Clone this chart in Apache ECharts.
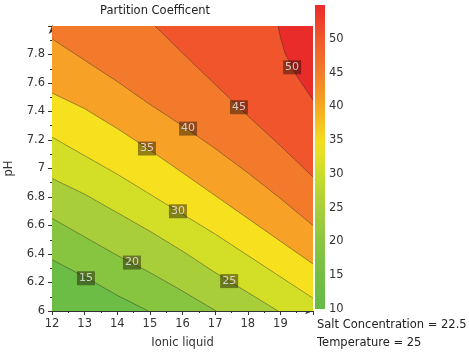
<!DOCTYPE html>
<html><head><meta charset="utf-8">
<script src="https://cdn.jsdelivr.net/npm/echarts@6/dist/echarts.min.js"></script>
<style>html,body{margin:0;padding:0;background:#fff}#c{width:469px;height:357px}</style>
</head><body><div id="c"></div>
<script>
// axis extents and ticks
const X0 = 12, X1 = 20, Y0 = 6, Y1 = 8;
const xTickLabels = ['12','13','14','15','16','17','18','19'];
const yTickLabels = ['6','6.2','6.4','6.6','6.8','7','7.2','7.4','7.6','7.8'];
const cbarTickLabels = ['10','15','20','25','30','35','40','45','50'];

// contour levels and band colours (band i lies between levels[i-1] and levels[i])
const levels = [15, 20, 25, 30, 35, 40, 45, 50];
const bandColors = ['#6bbd45','#87c540','#a8cf39','#d3df27','#f7e11f','#f7a226','#f37a2b','#f0552c','#e92b2a'];

// contour lines: [Ionic liquid, pH]
const contour15 = [[12,6.36],[13,6.24],[14,6.11],[14.95,6]];
const contour20 = [[12,6.65],[13,6.52],[14,6.39],[15,6.27],[16,6.14],[17.03,6]];
const contour25 = [[12,6.93],[13,6.82],[14,6.69],[15,6.56],[16,6.42],[17,6.27],[18,6.13],[18.93,6]];
const contour30 = [[12,7.22],[13,7.09],[14,6.96],[15,6.82],[16,6.68],[17,6.54],[18,6.39],[19,6.24],[20,6.09]];
const contour35 = [[12,7.53],[13,7.42],[14,7.28],[15,7.13],[16,6.97],[17,6.81],[18,6.65],[19,6.49],[20,6.33]];
const contour40 = [[12,7.91],[13,7.76],[14,7.61],[15,7.45],[16,7.30],[17,7.14],[18,6.97],[19,6.79],[20,6.60]];
const contour45 = [[15.16,8],[16,7.81],[17,7.59],[18,7.37],[19,7.16],[20,6.94]];
const contour50 = [[18.93,8],[19.0,7.92],[19.14,7.81],[19.5,7.65],[20,7.48]];
const contours = [contour15, contour20, contour25, contour30, contour35, contour40, contour45, contour50];

// contour label positions: [Ionic liquid, pH, level]
const contourLabels = [[13.04,6.23,15],[14.45,6.34,20],[17.43,6.21,25],[15.86,6.70,30],[14.91,7.14,35],[16.17,7.28,40],[17.73,7.43,45],[19.36,7.71,50]];

// colour bar
const cbarMin = 10, cbarMax = 55;
const cbarValues = [10, 15, 20, 25, 30, 33, 35, 40, 45, 50, 55];
const cbarColors = ['#66bb47','#74be45','#8bc640','#a9cf3a','#c9dc2d','#e6e024','#f3dc1f','#f6a823','#f27c2a','#ef592b','#ea2a2b'];

const title = 'Partition Coefficent';
const notes = ['Salt Concentration = 22.5', 'Temperature = 25'];

const FONT = 'DejaVu Sans';

function perim(p) {
  const x = p[0], y = p[1], e = 1e-9;
  if (Math.abs(y - Y0) < e) return (x - X0) / (X1 - X0);
  if (Math.abs(x - X1) < e) return 1 + (y - Y0) / (Y1 - Y0);
  if (Math.abs(y - Y1) < e) return 2 + (X1 - x) / (X1 - X0);
  return 3 + (Y1 - y) / (Y1 - Y0);
}
const corners = [[X0,Y0],[X1,Y0],[X1,Y1],[X0,Y1]];
function regionAbove(line) {
  const pts = line.slice();
  const te = perim(line[line.length - 1]);
  let ts = perim(line[0]);
  if (ts < te) ts += 4;
  for (let k = Math.floor(te) + 1; k < ts; k++) pts.push(corners[k % 4]);
  return pts;
}

const chart = echarts.init(document.getElementById('c'), null, {renderer: 'canvas'});

const bandData = [-1].concat(levels.map((l, i) => i));

const series = [];
series.push({
  type: 'custom', xAxisIndex: 0, yAxisIndex: 0, silent: true, z: 1,
  data: bandData.map(v => [v]),
  renderItem: function (params, api) {
    const idx = api.value(0);
    let poly;
    if (idx < 0) poly = corners;
    else poly = regionAbove(contours[idx]);
    return {
      type: 'polygon',
      shape: {points: poly.map(p => api.coord(p))},
      style: {fill: bandColors[idx + 1], stroke: null}
    };
  }
});
contours.forEach((c, i) => {
  series.push({
    type: 'line', xAxisIndex: 0, yAxisIndex: 0, data: c, showSymbol: false, silent: true, z: 3,
    lineStyle: {color: 'rgba(45,45,45,0.55)', width: 0.8}, animation: false
  });
});
series.push({
  type: 'scatter', xAxisIndex: 0, yAxisIndex: 0, data: contourLabels, symbolSize: 1,
  itemStyle: {color: 'rgba(0,0,0,0)'}, z: 5, silent: true,
  label: {
    show: true, position: 'inside', formatter: p => String(p.value[2]),
    color: '#eeeeee', fontFamily: FONT, fontSize: 11,
    backgroundColor: 'rgba(20,10,0,0.55)', padding: [2, 2, 1, 2]
  }
});
// colour bar
series.push({
  type: 'custom', xAxisIndex: 1, yAxisIndex: 1, silent: true,
  data: [[0]],
  renderItem: function (params, api) {
    const a = api.coord([0, cbarMin]);
    const b = api.coord([1, cbarMax]);
    const stops = cbarValues.map((v, i) => ({offset: (v - cbarMin) / (cbarMax - cbarMin), color: cbarColors[i]}));
    return {
      type: 'rect',
      shape: {x: a[0], y: b[1], width: b[0] - a[0], height: a[1] - b[1]},
      style: {fill: new echarts.graphic.LinearGradient(0, 1, 0, 0, stops)}
    };
  }
});

const option = {
  animation: false,
  backgroundColor: '#fff',
  title: {text: title, left: 100, top: 5, padding: 0, textStyle: {fontFamily: FONT, fontSize: 11.5, fontWeight: 'normal', color: '#222'}},
  grid: [
    {left: 52, right: 156, top: 26, bottom: 46, containLabel: false, outerBoundsMode: 'none'},
    {left: 315, width: 10, top: 5, height: 304, containLabel: false, outerBoundsMode: 'none'}
  ],
  xAxis: [
    {type: 'value', gridIndex: 0, min: X0, max: X1, interval: 1,
     name: 'Ionic liquid', nameLocation: 'middle', nameGap: 26,
     nameTextStyle: {fontFamily: FONT, fontSize: 11.5, color: '#333'},
     axisLine: {show: true, symbol: ['none', 'arrow'], symbolSize: [5, 8], lineStyle: {color: '#333', width: 1}},
     axisTick: {show: true, length: 4, lineStyle: {color: '#333'}},
     minorTick: {show: true, splitNumber: 2, length: 2, lineStyle: {color: '#333'}},
     axisLabel: {fontFamily: FONT, fontSize: 11.5, color: '#333', margin: 7,
       formatter: v => { const i = Math.round(v - X0); return xTickLabels[i] !== undefined ? xTickLabels[i] : ''; }},
     splitLine: {show: false}},
    {type: 'value', gridIndex: 1, min: 0, max: 1, show: false}
  ],
  yAxis: [
    {type: 'value', gridIndex: 0, min: Y0, max: Y1, interval: 0.2,
     name: 'pH', nameLocation: 'middle', nameGap: 37, nameRotate: 90,
     nameTextStyle: {fontFamily: FONT, fontSize: 11.5, color: '#333'},
     axisLine: {show: true, symbol: ['none', 'arrow'], symbolSize: [5, 8], lineStyle: {color: '#333', width: 1}},
     axisTick: {show: true, length: 4, lineStyle: {color: '#333'}},
     minorTick: {show: true, splitNumber: 2, length: 2, lineStyle: {color: '#333'}},
     axisLabel: {fontFamily: FONT, fontSize: 11.5, color: '#333', margin: 7,
       formatter: v => { const i = Math.round((v - Y0) / 0.2); return yTickLabels[i] !== undefined ? yTickLabels[i] : ''; }},
     splitLine: {show: false}},
    {type: 'value', gridIndex: 1, min: cbarMin, max: cbarMax, interval: 5, position: 'right',
     axisLine: {show: false}, axisTick: {show: false}, splitLine: {show: false},
     axisLabel: {fontFamily: FONT, fontSize: 11.5, color: '#333', margin: 4,
       formatter: v => { const i = Math.round((v - cbarMin) / 5); return cbarTickLabels[i] !== undefined ? cbarTickLabels[i] : ''; }}}
  ],
  graphic: [
    {type: 'text', left: 317, top: 319, style: {text: notes[0], fontFamily: FONT, fontSize: 11.5, fill: '#222'}},
    {type: 'text', left: 317, top: 337, style: {text: notes[1], fontFamily: FONT, fontSize: 11.5, fill: '#222'}}
  ],
  series: series
};
chart.setOption(option);
</script>
</body></html>
